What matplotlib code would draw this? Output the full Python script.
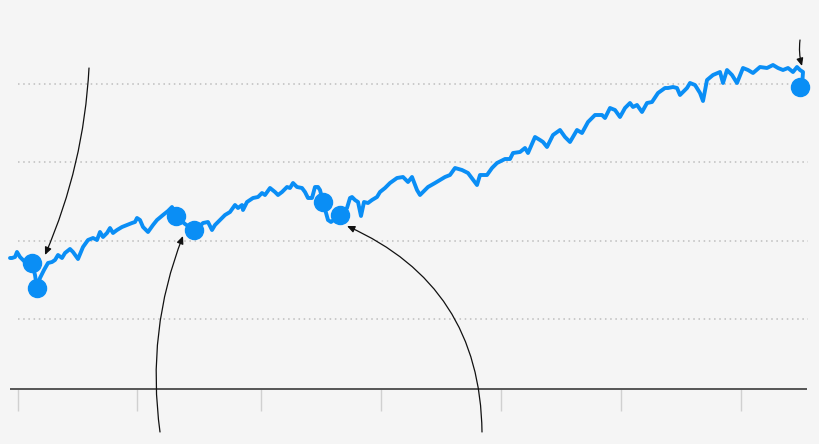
import matplotlib
matplotlib.use("Agg")
import matplotlib.pyplot as plt

# time step (weeks since start) and index level
t = [0, 2, 5, 7, 10, 15, 18, 22, 25, 27, 30, 34, 38, 42, 45, 48, 52, 55, 60, 63,
     68, 73, 78, 83, 87, 90, 93, 97, 100, 103, 107, 112, 117, 122, 125, 127, 130,
     133, 138, 143, 147, 153, 158, 162, 166, 175, 184, 190, 193, 198, 202, 205,
     210, 215, 220, 225, 228, 232, 233, 237, 243, 248, 252, 255, 260, 265, 268,
     272, 277, 280, 283, 287, 292, 295, 298, 302, 305, 308, 310, 313, 318, 321,
     330, 337, 340, 342, 345, 348, 351, 354, 358, 362, 367, 370, 375, 380, 387,
     393, 398, 402, 407, 410, 413, 418, 425, 435, 440, 445, 452, 458, 467, 470,
     477, 482, 487, 495, 500, 503, 510, 515, 518, 525, 530, 533, 537, 543, 550,
     555, 560, 567, 572, 578, 585, 592, 595, 600, 605, 610, 615, 620, 623, 627,
     632, 637, 642, 648, 655, 658, 663, 667, 670, 677, 680, 685, 690, 693, 697,
     703, 710, 713, 717, 722, 727, 733, 738, 743, 750, 757, 763, 768, 773, 778,
     783, 787, 790, 793, 792]
level = [131, 131, 132, 137, 132, 127, 126, 126, 114, 101, 111, 119, 126, 127, 129,
         134, 131, 136, 140, 137, 130, 142, 149, 151, 149, 157, 152, 156, 161, 156,
         159, 162, 164, 166, 167, 171, 169, 162, 157, 164, 169, 174, 178, 182, 173,
         165, 159, 163, 166, 167, 159, 164, 169, 174, 177, 184, 181, 184, 179, 187,
         191, 192, 196, 194, 201, 197, 194, 197, 202, 201, 206, 202, 201, 197, 191,
         191, 202, 202, 199, 187, 169, 167, 174, 181, 191, 192, 189, 187, 173, 187,
         186, 189, 192, 197, 201, 206, 211, 212, 207, 212, 199, 194, 197, 202, 206,
         212, 214, 221, 219, 216, 204, 214, 214, 221, 226, 230, 230, 236, 237, 241,
         236, 252, 249, 247, 242, 254, 259, 252, 247, 259, 256, 267, 274, 274, 271,
         281, 279, 272, 281, 286, 282, 284, 277, 286, 287, 296, 301, 301, 302, 301,
         294, 301, 306, 304, 296, 288, 309, 314, 317, 306, 319, 314, 306, 321, 319,
         316, 322, 321, 324, 321, 319, 321, 317, 322, 319, 317, 302]

# highlighted points
dot_t = [22, 27, 166, 184, 313, 330, 790]
dot_level = [126, 101, 173, 159, 187, 174, 302]

grid_levels = [70, 148, 227, 305]
year_ticks = [8, 127, 251, 371, 491, 611, 731]

# annotation arrows: (from, to, curvature)
arrows = [
    ((79, 321), (35, 134), -0.09),
    ((150, -43), (173, 153), -0.13),
    ((472, -43), (337, 163), 0.32),
    ((790, 349), (792, 323), 0.1),
]

BLUE = "#0a8ef5"
BG = "#f5f5f5"

fig = plt.figure(figsize=(8.2, 4.44), dpi=100)
fig.patch.set_facecolor(BG)
ax = fig.add_axes([0, 0, 1, 1])
ax.set_facecolor(BG)
ax.set_xlim(-10, 810)
ax.set_ylim(-55, 389)
ax.axis("off")

# dotted gridlines
for g in grid_levels:
    ax.hlines(g, 8, 798, colors="#bdbdbd", linewidth=1.1,
              linestyles=(0, (1, 2.4)), zorder=1)

# baseline and year ticks
ax.hlines(0, 0, 797, colors="#555555", linewidth=1.4, zorder=2)
ax.vlines(year_ticks, -22, 0, colors="#d0d0d0", linewidth=1.0, zorder=1)

ax.plot(t, level, color=BLUE, linewidth=2.8, solid_joinstyle="round",
        solid_capstyle="round", zorder=3)
ax.plot(dot_t, dot_level, "o", color=BLUE, markersize=13, zorder=4)

for start, end, rad in arrows:
    ax.annotate("", xy=end, xytext=start,
                arrowprops=dict(arrowstyle="-|>,head_length=0.45,head_width=0.2",
                                connectionstyle=f"arc3,rad={rad}",
                                color="#111111", lw=0.9,
                                shrinkA=0, shrinkB=0),
                zorder=5)

fig.savefig("out.png", dpi=100, facecolor=BG)
